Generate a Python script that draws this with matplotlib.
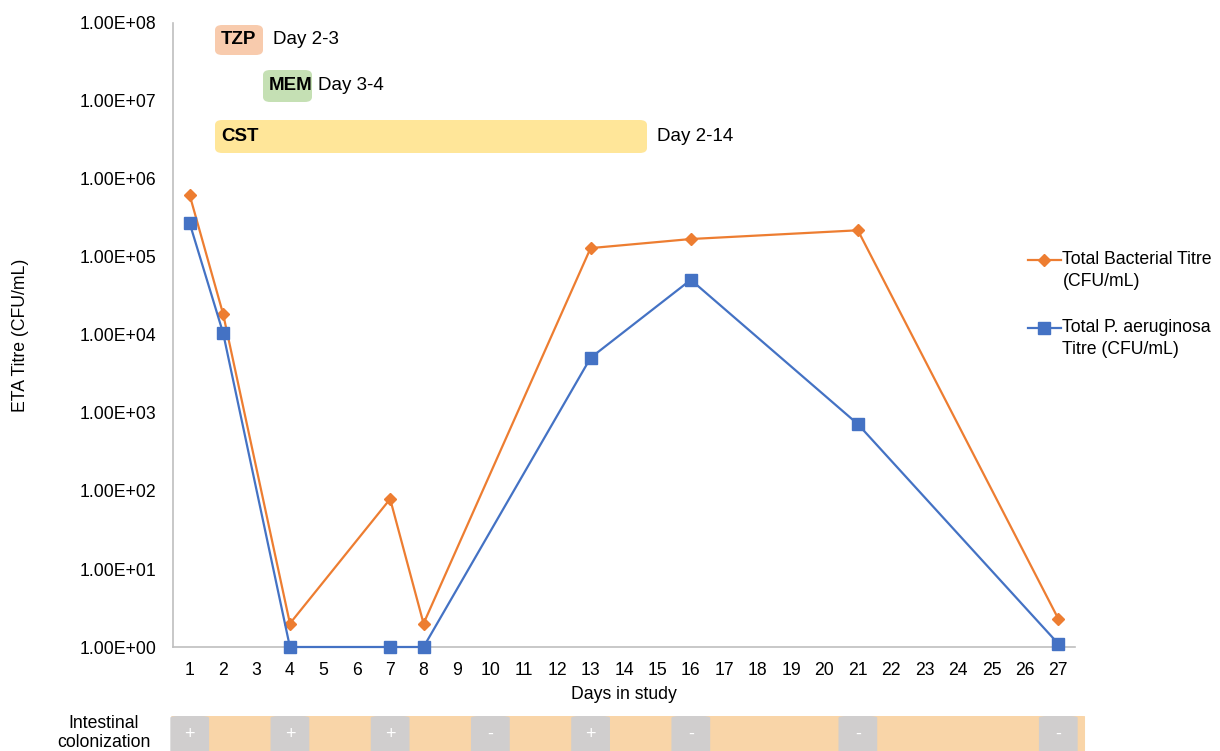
import matplotlib
matplotlib.use("Agg")
import matplotlib.pyplot as plt
from matplotlib.patches import FancyBboxPatch
from matplotlib.legend_handler import HandlerLine2D
import numpy as np

plt.rcParams['font.family'] = ['Liberation Sans', 'DejaVu Sans']

days = [1, 2, 4, 7, 8, 13, 16, 21, 27]
total_bact = [6.2e5, 1.86e4, 2.0, 79, 2.0, 1.3e5, 1.7e5, 2.2e5, 2.3]
total_pa = [2.7e5, 1.06e4, 1.0, 1.0, 1.0, 5.1e3, 5.1e4, 720, 1.1]
xticks = list(range(1, 28))
yticks = [1e0, 1e1, 1e2, 1e3, 1e4, 1e5, 1e6, 1e7, 1e8]

col_days = [1, 4, 7, 10, 13, 16, 21, 27]
col_signs = ['+', '+', '+', '-', '+', '-', '-', '-']

treatments = ['TZP', 'MEM', 'CST']
treat_labels = ['Day 2-3', 'Day 3-4', 'Day 2-14']

FS = 12.7
W, H = 1220, 751
fig = plt.figure(figsize=(W/100, H/100), dpi=100)
ax = fig.add_axes([173/W, 1-647/H, (1075-173)/W, (647-23)/H])

orange = '#ED7D31'
blue = '#4472C4'
ax.plot(days, total_bact, color=orange, lw=1.6, marker='D', ms=6.5,
        label='Total Bacterial Titre\n(CFU/mL)', clip_on=False, zorder=3)
ax.plot(days, total_pa, color=blue, lw=1.6, marker='s', ms=8,
        label='Total P. aeruginosa\nTitre (CFU/mL)', clip_on=False, zorder=3)

ax.set_yscale('log')
ax.set_ylim(1, 1e8)
ax.set_xlim(0.5, 27.5)
ax.set_yticks(yticks)
ax.set_yticklabels(['%.2fE+%02d' % (1.0, int(np.log10(v))) for v in yticks])
ax.minorticks_off()
ax.set_xticks(xticks)
ax.set_xticklabels([str(x) for x in xticks])
ax.tick_params(length=0, labelsize=FS, colors='black')
ax.tick_params(axis='x', pad=11)
ax.tick_params(axis='y', pad=12)
for s in ['top', 'right']:
    ax.spines[s].set_visible(False)
for s in ['left', 'bottom']:
    ax.spines[s].set_color('#BFBFBF')
    ax.spines[s].set_linewidth(1.2)
ax.set_xlabel('Days in study', fontsize=FS, labelpad=5)
ax.set_ylabel('ETA Titre (CFU/mL)', fontsize=FS, labelpad=36)


class TopLineHandler(HandlerLine2D):
    """Align the legend handle with the first line of a two-line label."""
    def create_artists(self, legend, orig_handle, xdescent, ydescent,
                       width, height, fontsize, trans):
        arts = super().create_artists(legend, orig_handle, xdescent, ydescent,
                                      width, height, fontsize, trans)
        for a in arts:
            a.set_ydata(np.asarray(a.get_ydata()) + 0.62 * fontsize)
        return arts


leg = ax.legend(loc='center left', bbox_to_anchor=((1028-173)/902, 0.549),
                frameon=False, fontsize=FS, handlelength=1.85,
                handletextpad=0.1, labelspacing=1.6, borderpad=0,
                borderaxespad=0, handler_map={matplotlib.lines.Line2D: TopLineHandler()})
for t in leg.get_texts():
    t.set_linespacing(1.4)

def px2ax(x, y):
    return ((x-173)/(1075-173), (647-y)/(647-23))

boxes = [
    (215, 263, 25, 55, '#F8CBAD', 273),
    (263, 312, 70, 102, '#C5E0B4', 318),
    (215, 647, 120, 153, '#FFE699', 657),
]
for (name, lab, (x0, x1, y0, y1, c, tx)) in zip(treatments, treat_labels, boxes):
    ax0, ay1 = px2ax(x0, y0)
    ax1_, ay0 = px2ax(x1, y1)
    p = FancyBboxPatch((ax0, ay0), ax1_-ax0, ay1-ay0,
                       boxstyle='round,pad=0,rounding_size=0.008',
                       transform=ax.transAxes, fc=c, ec='none', zorder=1,
                       clip_on=False)
    ax.add_patch(p)
    tx0, _ = px2ax(x0 + 6, 0)
    ax.text(tx0, (ay0+ay1)/2, name, transform=ax.transAxes, fontsize=13.5,
            fontweight='bold', va='center', ha='left')
    lx, _ = px2ax(tx, 0)
    ax.text(lx, (ay0+ay1)/2, lab, transform=ax.transAxes, fontsize=13.5,
            va='center', ha='left')

# Intestinal colonization strip
sax = fig.add_axes([173/W, 1-765/H, (1075-173)/W, (765-716)/H])
sax.set_xlim(0.5, 27.5)
sax.set_ylim(0, 1)
sax.axis('off')
sax.add_patch(FancyBboxPatch((0.45, 0.0), 27.8-0.45, 1.0,
                             boxstyle='round,pad=0,rounding_size=0.1',
                             fc='#F9D5A8', ec='none', clip_on=False,
                             mutation_aspect=0.05))
for d, sgn in zip(col_days, col_signs):
    sax.add_patch(FancyBboxPatch((d-0.58, 0.0), 1.16, 1.0,
                                 boxstyle='round,pad=0,rounding_size=0.25',
                                 fc='#D0CECE', ec='none', clip_on=False,
                                 mutation_aspect=0.15))
    sax.text(d, 0.62, sgn, ha='center', va='center', color='white',
             fontsize=13, clip_on=False)
fig.text(104/W, 1-733/H, 'Intestinal\ncolonization', ha='center', va='center',
         fontsize=FS, linespacing=1.15)

fig.savefig('out.png', dpi=100)
